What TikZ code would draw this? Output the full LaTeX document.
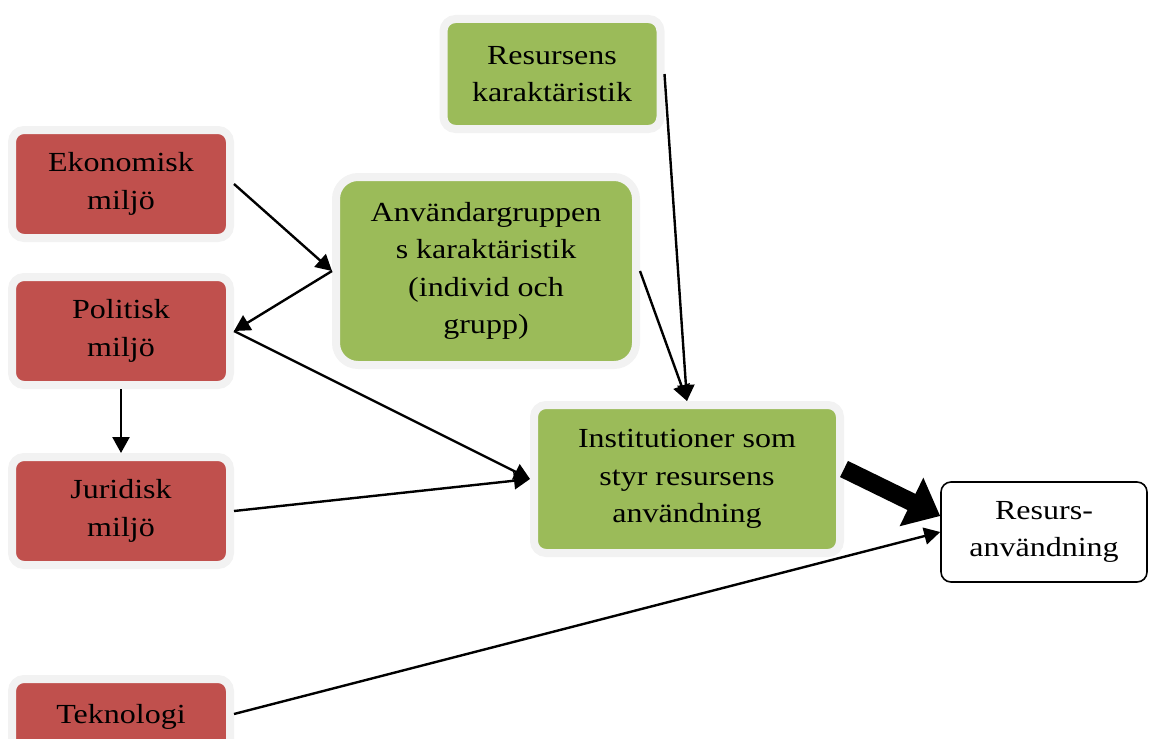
\documentclass[tikz,border=0pt]{standalone}
\usepackage{fontspec}
\setmainfont{Liberation Serif}[FakeStretch=1.16]
\usetikzlibrary{arrows.meta}
\definecolor{boxred}{HTML}{C0504D}
\definecolor{boxgreen}{HTML}{9BBB59}
\definecolor{boxrim}{HTML}{F2F2F2}
\begin{document}
\begin{tikzpicture}[x=0.5pt,y=-0.5pt]
        \useasboundingbox (0,0) rectangle (1149,738);
        \begin{scope}[every node/.style={draw=boxrim,line width=4pt,fill=boxred,rounded corners=6pt,
            minimum width=109pt,minimum height=54pt,align=center,font=\fontsize{13.8}{18.75}\selectfont}]
          \node[] (eko) at (121,184) {Ekonomisk\\miljö};
          \node[] (pol) at (121,331) {Politisk\\miljö};
          \node[] (jur) at (121,511) {Juridisk\\miljö};
          \node[] (tek) at (121,733) {Teknologi\\\mbox{}};
        \end{scope}
        \begin{scope}[every node/.style={draw=boxrim,line width=4pt,fill=boxgreen,rounded corners=6pt,
            align=center,font=\fontsize{13.8}{18.75}\selectfont}]
          \node[minimum width=108.5pt,minimum height=55pt] (res) at (552,74) {Resursens\\karaktäristik};
          \node[minimum width=150pt,minimum height=94pt,rounded corners=11pt] (anv) at (486,271)
            {Användargruppen\\s karaktäristik\\(individ och\\grupp)};
          \node[minimum width=153pt,minimum height=74pt] (inst) at (687,479)
            {Institutioner som\\styr resursens\\användning};
        \end{scope}
        \node[draw=black,line width=0.8pt,fill=white,rounded corners=5pt,minimum width=103pt,minimum height=50pt,
          align=center,font=\fontsize{13.8}{18.75}\selectfont] (out) at (1044,532) {Resurs-\\användning};
        \begin{scope}[every edge/.style={draw=black,line width=1.2pt,-{Triangle[length=8pt,width=8.5pt]}}]
          \path (eko.east) edge (anv.west);
          \path (anv.west) edge (pol.east);
          \path (pol.east) edge (inst.west);
          \path (pol.south) edge (jur.north);
          \path (jur.east) edge (inst.west);
          \path (res.east) edge (inst.north);
          \path (anv.east) edge (inst.north);
          \path ([yshift=5pt]inst.east) edge[line width=9pt,-{Triangle[length=16pt,width=26pt]}] ([yshift=8pt]out.west);
          \path ([yshift=9.5pt]tek.east) edge (out.west);
        \end{scope}
      \end{tikzpicture}
\end{document}
